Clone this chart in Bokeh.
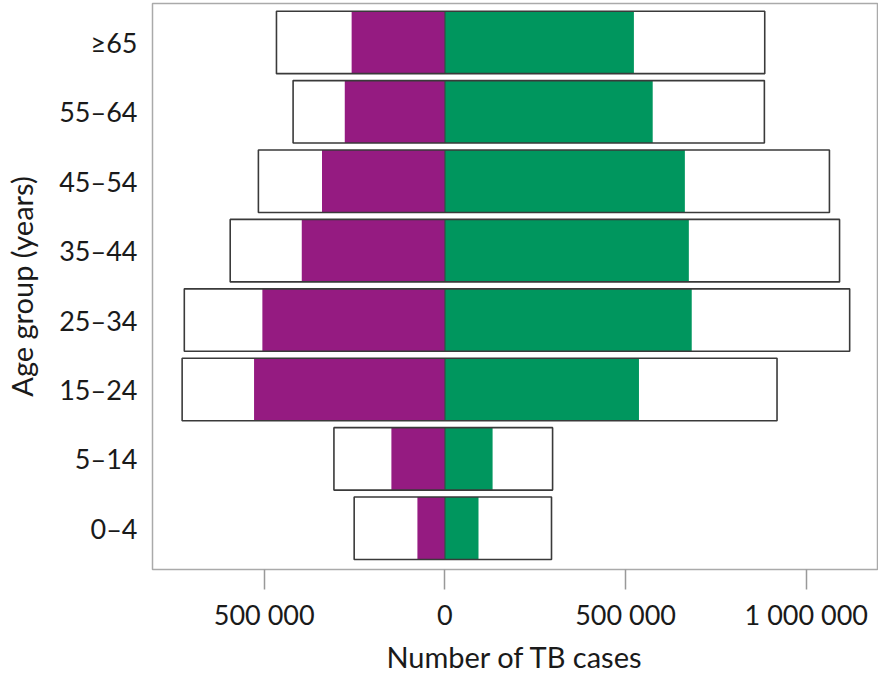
from bokeh.plotting import figure
from bokeh.models import Range1d, FixedTicker
from bokeh.embed import file_html
from bokeh.resources import INLINE

# ---- data ----
age_groups = ["0–4", "5–14", "15–24", "25–34", "35–44", "45–54", "55–64", "≥65"]
female_estimated = [251000, 307000, 727000, 721000, 594000, 516000, 420000, 466000]
female_notified = [76000, 148000, 528000, 505000, 396000, 340000, 277000, 258000]
male_estimated = [295000, 298000, 919000, 1120000, 1092000, 1064000, 884000, 885000]
male_notified = [93000, 132000, 537000, 683000, 675000, 664000, 575000, 523000]

x_tick_values = [-500000, 0, 500000, 1000000]
x_tick_labels = ["500 000", "0", "500 000", "1 000 000"]
x_title = "Number of TB cases"
y_title = "Age group (years)"

PURPLE = "#951B81"
GREEN = "#00965E"
FONT = "Lato"
TEXT = "#1a1a1a"
FS = "27px"
FS_TITLE = "29px"

ys = list(range(len(age_groups)))
BAR_H = 0.9
X_MIN, X_MAX = -809000, 1197000

p = figure(width=878, height=677,
           x_range=Range1d(X_MIN, X_MAX),
           y_range=Range1d(-0.594, 7.561),
           output_backend="svg", toolbar_location=None,
           min_border_left=152, min_border_right=1,
           min_border_top=3, min_border_bottom=108,
           background_fill_color="white", border_fill_color="white")

# white boxes for estimated incidence
p.hbar(y=ys, left=[-v for v in female_estimated], right=male_estimated,
       height=BAR_H, fill_color="white", line_color=None)
# notified cases
p.hbar(y=ys, left=[-v for v in female_notified], right=0,
       height=BAR_H, fill_color=PURPLE, line_color=None)
p.hbar(y=ys, left=0, right=male_notified,
       height=BAR_H, fill_color=GREEN, line_color=None)
p.segment(x0=0, x1=0, y0=[y - BAR_H / 2 for y in ys], y1=[y + BAR_H / 2 for y in ys],
          line_color="#3a3a3a", line_width=1)
# outlines of estimated boxes
p.hbar(y=ys, left=[-v for v in female_estimated], right=male_estimated,
       height=BAR_H, fill_color=None, line_color="#3a3a3a", line_width=1.6)

p.xgrid.grid_line_color = None
p.ygrid.grid_line_color = None
p.outline_line_color = "#aaaaaa"
p.outline_line_width = 1.5

# x axis
xa = p.xaxis[0]
xa.ticker = FixedTicker(ticks=x_tick_values)
xa.major_label_overrides = {v: s for v, s in zip(x_tick_values, x_tick_labels)}
xa.axis_line_color = None
xa.major_tick_line_color = "#999999"
xa.major_tick_line_width = 1.5
xa.major_tick_out = 20
xa.major_tick_in = 0
xa.minor_tick_line_color = None
xa.major_label_standoff = 8
xa.major_label_text_font = FONT
xa.major_label_text_font_size = FS
xa.major_label_text_color = TEXT
xa.axis_label = x_title
xa.axis_label_text_font = FONT
xa.axis_label_text_font_size = FS_TITLE
xa.axis_label_text_font_style = "normal"
xa.axis_label_text_color = TEXT
xa.axis_label_standoff = 5

# y axis
ya = p.yaxis[0]
ya.ticker = FixedTicker(ticks=ys)
ya.major_label_overrides = {y: s for y, s in zip(ys, age_groups)}
ya.axis_line_color = None
ya.major_tick_line_color = None
ya.major_tick_out = 0
ya.major_tick_in = 0
ya.minor_tick_line_color = None
ya.major_label_standoff = 15
ya.major_label_text_font = FONT
ya.major_label_text_font_size = FS
ya.major_label_text_color = TEXT
ya.axis_label = y_title
ya.axis_label_text_font = FONT
ya.axis_label_text_font_size = FS_TITLE
ya.axis_label_text_font_style = "normal"
ya.axis_label_text_color = TEXT
ya.axis_label_standoff = 17

open("out.html", "w").write(file_html(p, INLINE))
